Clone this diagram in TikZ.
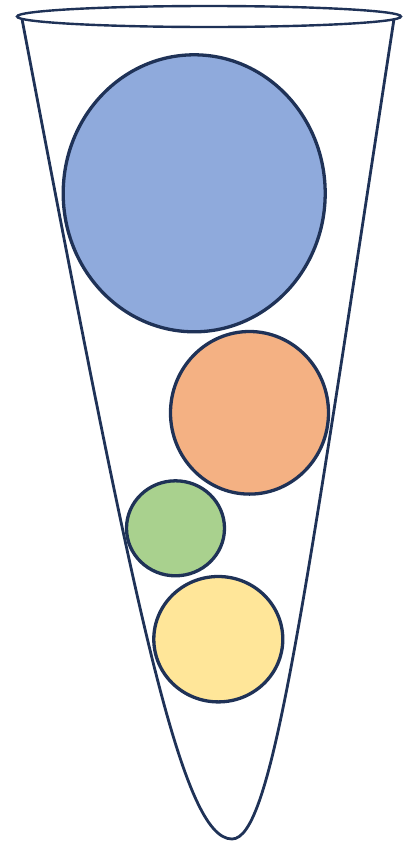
\documentclass[tikz,border=0pt]{standalone}
\definecolor{navy}{HTML}{1F3257}
\definecolor{cblue}{HTML}{8FAADC}
\definecolor{corange}{HTML}{F4B183}
\definecolor{cgreen}{HTML}{A9D18E}
\definecolor{cyellow}{HTML}{FFE699}
\tikzset{
  outline/.style={draw=navy, line width=2.8pt},
  ball/.style={draw=navy, line width=3.3pt}
}
\begin{document}
\begin{tikzpicture}[x=1pt,y=-1pt]
\useasboundingbox (0,0) rectangle (404,841);
% cone
\draw[outline, line join=round] (22,19) .. controls (136,619) and (182,839) .. (232,839)
  .. controls (272,839) and (302,619) .. (394,19);
% rim
\draw[outline, line width=2.4pt] (209,16.5) ellipse [x radius=192, y radius=10.5];
% balls
\draw[ball, fill=cblue] (194.2,193.3) ellipse [x radius=131, y radius=138.5];
\draw[ball, fill=corange] (249.5,412.8) ellipse [x radius=79, y radius=81.3];
\draw[ball, fill=cgreen] (175.5,528.3) ellipse [x radius=49, y radius=47.5];
\draw[ball, fill=cyellow] (218.3,639.2) ellipse [x radius=64.5, y radius=62.7];
\end{tikzpicture}
\end{document}
